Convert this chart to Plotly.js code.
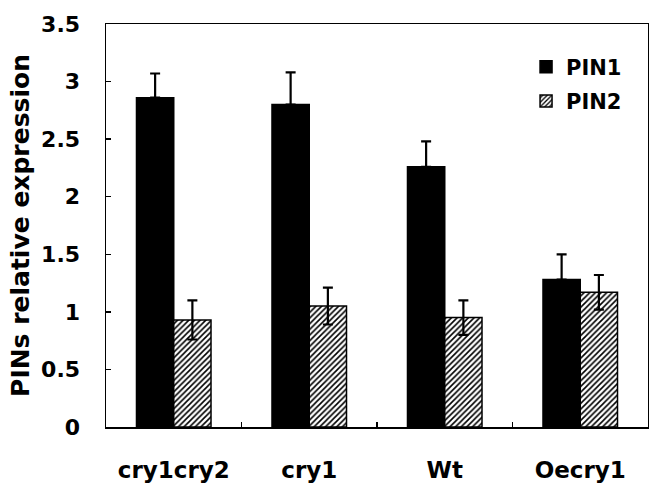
<!DOCTYPE html>
<html>
<head>
<meta charset="utf-8">
<script src="https://cdn.plot.ly/plotly-3.0.1.min.js"></script>
<style>html,body{margin:0;padding:0;background:#fff;}#chart{width:649px;height:487px;}</style>
</head>
<body>
<div id="chart"></div>
<script>
const categories = ["cry1cry2", "cry1", "Wt", "Oecry1"];
const pin1Values = [2.86, 2.80, 2.26, 1.28];
const pin1Errors = [0.21, 0.28, 0.22, 0.22];
const pin2Values = [0.93, 1.05, 0.95, 1.17];
const pin2Errors = [0.17, 0.16, 0.15, 0.15];
const yTicks = [0, 0.5, 1, 1.5, 2, 2.5, 3, 3.5];
const yTickLabels = ["0", "0.5", "1", "1.5", "2", "2.5", "3", "3.5"];

const FONT = "DejaVu Sans, sans-serif";

const traces = [
  {
    type: "bar", name: "PIN1", x: categories, y: pin1Values, legendgroup: "g1",
    marker: {color: "#000", line: {color: "#000", width: 1.5}},
    error_y: {type: "data", array: pin1Errors, arrayminus: pin1Errors.map(() => 0), symmetric: false,
              color: "#000", thickness: 2.2, width: 5}
  },
  {
    type: "bar", name: "PIN2", x: categories, y: pin2Values, legendgroup: "g2",
    marker: {color: "#fff", line: {color: "#000", width: 1.5},
             pattern: {shape: "/", fgcolor: "#000", bgcolor: "#fff", size: 4, solidity: 0.4}},
    error_y: {type: "data", array: pin2Errors, color: "#000", thickness: 2.2, width: 5}
  }
];

const layout = {
  width: 649, height: 487,
  margin: {l: 106, r: 1, t: 24, b: 60, pad: 0},
  paper_bgcolor: "#fff", plot_bgcolor: "#fff",
  barmode: "group", bargap: 0.45, bargroupgap: 0,
  showlegend: true,
  legend: {x: 0.775, y: 0.944, xanchor: "left", yanchor: "top",
           font: {family: FONT, size: 21, color: "#000", weight: "bold"},
           bgcolor: "rgba(0,0,0,0)", borderwidth: 0, tracegroupgap: 4, itemwidth: 30},
  xaxis: {
    type: "category", showline: true, mirror: true, linecolor: "#000", linewidth: 1.5,
    ticks: "inside", tickson: "boundaries", ticklen: 5, tickwidth: 1.5, tickcolor: "#000",
    showgrid: false, zeroline: false,
    tickfont: {family: FONT, size: 23, color: "#000", weight: "bold"},
    ticklabelstandoff: 22
  },
  yaxis: {
    range: [0, 3.5], tickvals: yTicks, ticktext: yTickLabels,
    showline: true, mirror: true, linecolor: "#000", linewidth: 1.5,
    ticks: "inside", ticklen: 5, tickwidth: 1.5, tickcolor: "#000",
    showgrid: false, zeroline: false,
    tickfont: {family: FONT, size: 22, color: "#000", weight: "bold"},
    ticklabelstandoff: 20,
    title: {text: "PINs relative expression", font: {family: FONT, size: 25, color: "#000", weight: "bold"}, standoff: 4}
  }
};

Plotly.newPlot("chart", traces, layout, {displayModeBar: false, staticPlot: true});
</script>
</body>
</html>
